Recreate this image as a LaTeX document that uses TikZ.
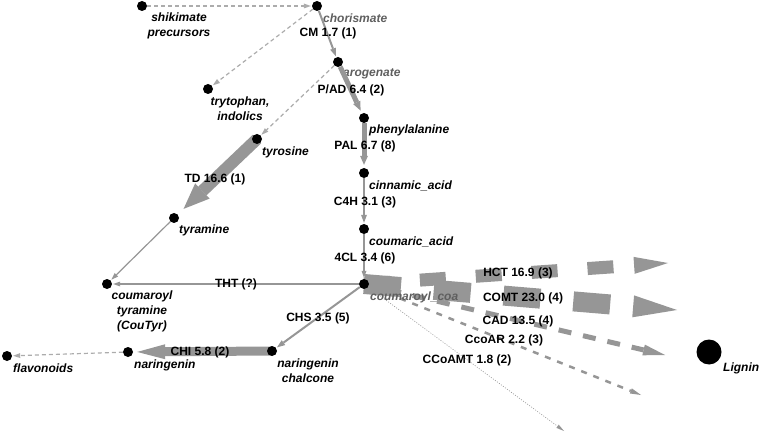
\documentclass[tikz,border=0pt]{standalone}
\usepackage{fontspec}
\setmainfont{Liberation Sans}
\usepackage{tikz}
\usetikzlibrary{
  arrows.meta,
  positioning,
  backgrounds
}
\definecolor{fluxgray}{RGB}{150,150,150}
\definecolor{sidegray}{RGB}{172,172,172}
\definecolor{namegray}{RGB}{95,95,95}
\newcommand{\pathsize}{\fontsize{12pt}{15pt}\selectfont}
\tikzset{
  dot/.style={
    circle, fill=black, inner sep=0pt, minimum size=10pt
  },
  bigdot/.style={
    dot, minimum size=25pt
  },
  met/.style={
    font=\pathsize\bfseries\itshape, inner sep=0pt, align=center
  },
  metG/.style={
    met, text=namegray
  },
  enz/.style={
    font=\pathsize\bfseries, inner sep=0pt
  },
  fluxT/.style={draw=fluxgray, line width=1.2pt, shorten >=1pt,
    -{Triangle[length=7pt,width=5pt,line width=0pt]}},
  fluxA/.style={draw=fluxgray, line width=2pt, shorten >=1pt,
    -{Triangle[length=8pt,width=6pt,line width=0pt]}},
  fluxB/.style={draw=fluxgray, line width=5pt, shorten >=3pt,
    -{Triangle[length=9pt,width=8pt,line width=0pt]}},
  sidearrow/.style={draw=sidegray, line width=1.2pt, shorten >=1pt,
    dash pattern=on 4pt off 3pt,
    -{Triangle[length=7pt,width=5pt,line width=0pt]}},
  ligarrow/.style={draw=fluxgray,
    -{Triangle[length=#1,width=0.5*#1,line width=0pt]}}
}
\begin{document}
\begin{tikzpicture}[x=1pt, y=-1pt]
  \useasboundingbox (0,0) rectangle (759,435);

  % metabolites
  \node[dot] (shik)   at (142,6)   {};
  \node[dot] (chor)   at (317,6)   {};
  \node[dot] (trp)    at (208,89)  {};
  \node[dot] (arog)   at (338,62)  {};
  \node[dot] (phe)    at (364,118) {};
  \node[dot] (tyr)    at (257,139) {};
  \node[dot] (cin)    at (364,173) {};
  \node[dot] (cou)    at (364,229) {};
  \node[dot] (tyra)   at (174,218) {};
  \node[dot] (coa)    at (364,284) {};
  \node[dot] (couTyr) at (107,284) {};
  \node[dot] (narch)  at (272,351) {};
  \node[dot] (nar)    at (128,352) {};
  \node[dot] (flav)   at (7,356)   {};
  \node[bigdot] (lig) at (709,352) {};

  \node[met]  (shikL)   at (179,26)  {shikimate\\precursors};
  \node[metG, anchor=west] (chorL) at (323,18) {chorismate};
  \node[met]  (trpL)    at (240,109) {trytophan,\\indolics};
  \node[metG, anchor=west] (arogL) at (343,74) {arogenate};
  \node[met, anchor=west]  (pheL)  at (369,130) {phenylalanine};
  \node[met, anchor=west]  (tyrL)  at (262,152) {tyrosine};
  \node[met, anchor=west]  (cinL)  at (369,186) {cinnamic\_acid};
  \node[met, anchor=west]  (couL)  at (369,242) {coumaric\_acid};
  \node[met, anchor=west]  (tyraL) at (179,230) {tyramine};
  \node[metG, anchor=west] (coaL)  at (370,297) {coumaroyl\_coa};
  \node[met]  (couTyrL) at (142,311) {coumaroyl\\tyramine\\(CouTyr)};
  \node[met]  (narchL)  at (308,371) {naringenin\\chalcone};
  \node[met, anchor=west]  (narL)  at (134,365) {naringenin};
  \node[met, anchor=west]  (flavL) at (13,368)  {flavonoids};
  \node[met, anchor=west]  (ligL)  at (723,368) {Lignin};

  % free ends of the lignin branches
  \coordinate (hctEnd)   at (668,263);
  \coordinate (comtEnd)  at (677,310);
  \coordinate (cadEnd)   at (665,355);
  \coordinate (ccrEnd)   at (641,395);
  \coordinate (ccomtEnd) at (564,431);

  \begin{scope}[on background layer]
    \draw[ligarrow=34pt, line width=13pt, dash pattern=on 26pt off 30pt]
      (coa.center) -- (hctEnd);
    \draw[ligarrow=44pt, line width=20pt, dash pattern=on 37pt off 33pt]
      (coa.center) -- (comtEnd);
    \draw[ligarrow=22pt, line width=5pt, dash pattern=on 13pt off 12pt]
      (coa.center) -- (cadEnd);
    \draw[ligarrow=11pt, line width=2.5pt, dash pattern=on 6pt off 7pt]
      (coa.center) -- (ccrEnd);
    \draw[ligarrow=8pt, line width=0.6pt, dash pattern=on 1pt off 1.5pt]
      (coa.center) -- (ccomtEnd);
    % broad fluxes
    \draw[draw=fluxgray, line width=12pt, shorten >=8pt,
      -{Triangle[length=26pt,width=21pt,line width=0pt]}] (tyr.center) -- (tyra);
    \draw[draw=fluxgray, line width=9pt, shorten >=4pt,
      -{Triangle[length=28pt,width=15pt,line width=0pt]}] (narch.center) -- (nar);
  \end{scope}

  \draw[sidearrow] (shik) -- (chor);
  \draw[sidearrow] (chor) -- (trp);
  \draw[fluxA]     (chor) -- (arog);
  \draw[sidearrow] (arog) -- (tyr);
  \draw[fluxB]     (arog) -- (phe);
  \draw[fluxB]     (phe)  -- (cin);
  \draw[fluxA]     (cin)  -- (cou);
  \draw[fluxT]     (cou)  -- (coa);
  \draw[fluxT]     (tyra) -- (couTyr);
  \draw[fluxT]     (coa)  -- (couTyr);
  \draw[fluxA]     (coa)  -- (narch);
  \draw[sidearrow] (nar)  -- (flav);

  % enzymes
  \node[enz] (cm)    at (328,33)  {CM 1.7 (1)};
  \node[enz] (pad)   at (351,90)  {P/AD 6.4 (2)};
  \node[enz] (pal)   at (365,146) {PAL 6.7 (8)};
  \node[enz] (c4h)   at (365,202) {C4H 3.1 (3)};
  \node[enz] (fcl)   at (365,258) {4CL 3.4 (6)};
  \node[enz] (td)    at (215,179) {TD 16.6 (1)};
  \node[enz] (tht)   at (236,284) {THT (?)};
  \node[enz] (chs)   at (318,318) {CHS 3.5 (5)};
  \node[enz] (chi)   at (200,352) {CHI 5.8 (2)};
  \node[enz] (hct)   at (518,273) {HCT 16.9 (3)};
  \node[enz] (comt)  at (523,298) {COMT 23.0 (4)};
  \node[enz] (cad)   at (518,321) {CAD 13.5 (4)};
  \node[enz] (ccr)   at (504,340) {CcoAR 2.2 (3)};
  \node[enz] (ccomt) at (467,360) {CCoAMT 1.8 (2)};
\end{tikzpicture}
\end{document}
